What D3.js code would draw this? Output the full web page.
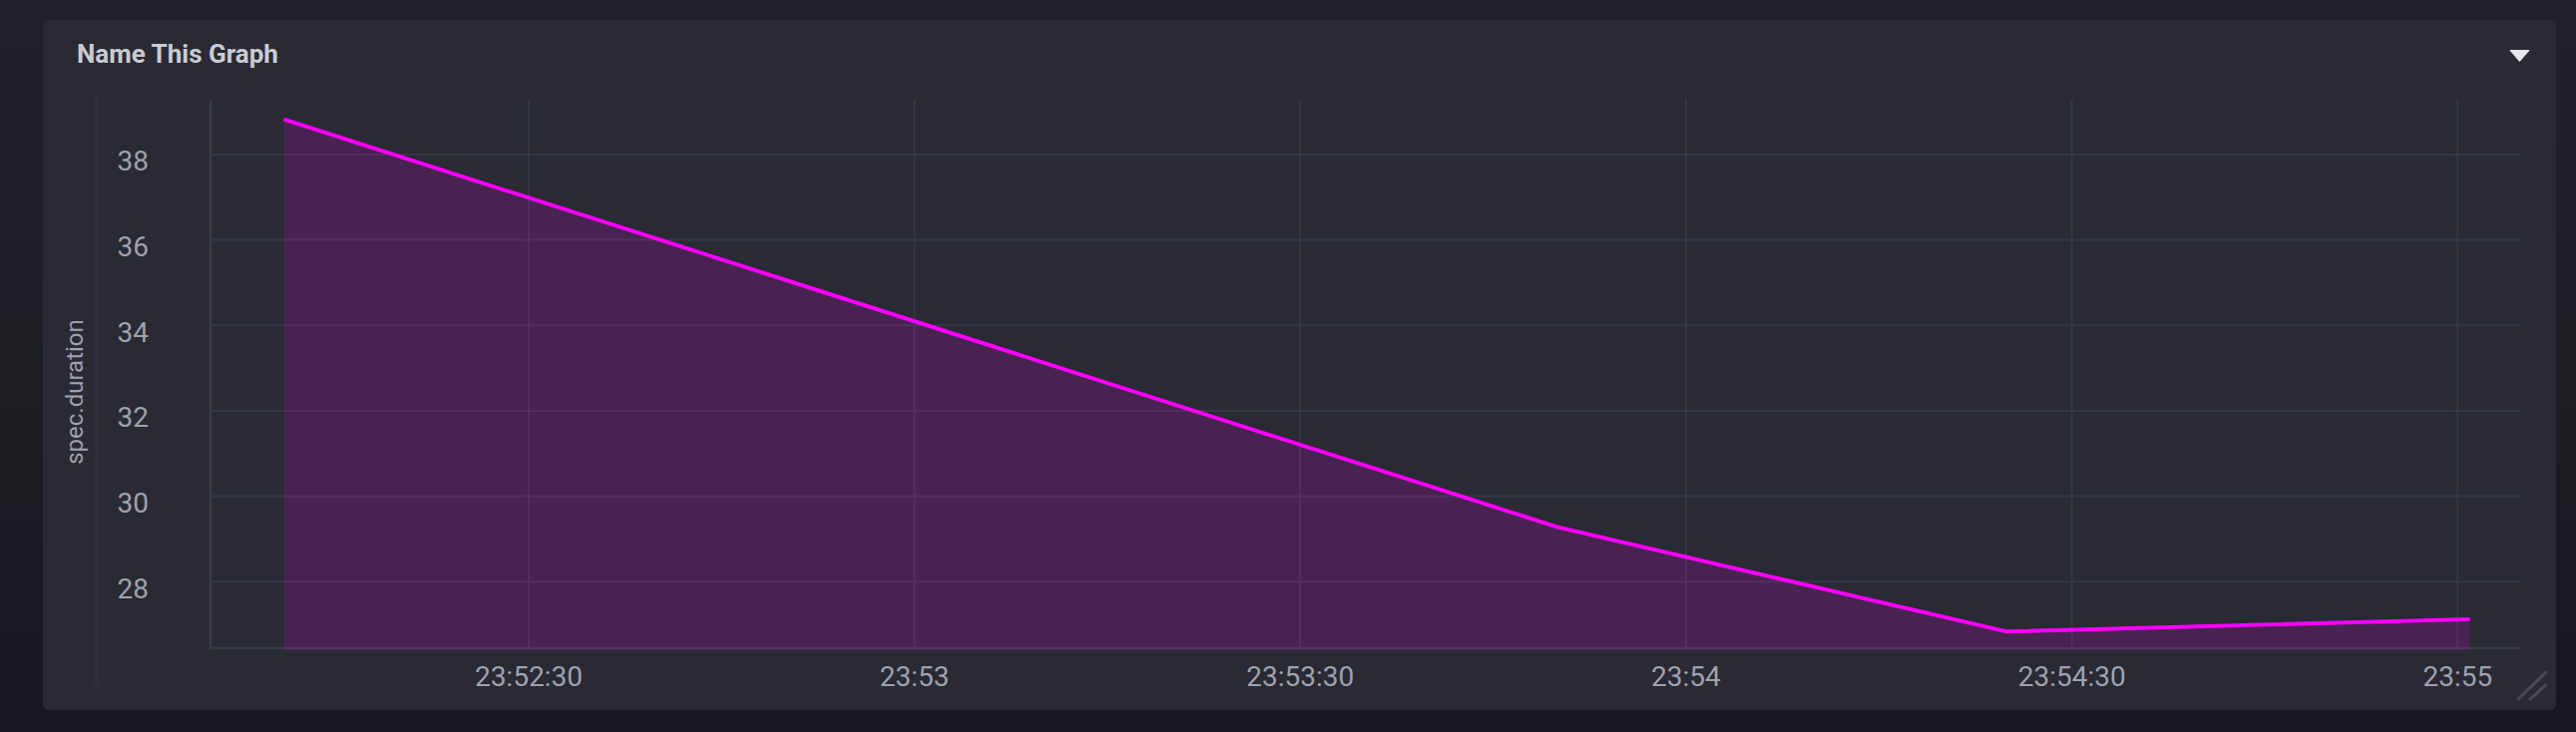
<!DOCTYPE html>
<html>
<head>
<meta charset="utf-8">
<script src="https://cdn.jsdelivr.net/npm/d3@7/dist/d3.min.js"></script>
<style>
  html, body { margin: 0; padding: 0; }
  body { width: 2582px; height: 734px; overflow: hidden;
         background: linear-gradient(180deg, #21212b 0%, #1d1d24 50%, #17161e 100%); }
  svg { display: block; font-family: Roboto, "Noto Sans", sans-serif; }
</style>
</head>
<body>
<svg id="chart" width="2582" height="734"></svg>
<script>
// ---- data ----
const times = ["23:52:11", "23:53:50", "23:54:25", "23:55:01"];
const values = [38.81, 29.27, 26.82, 27.11];
const xTickLabels = ["23:52:30", "23:53", "23:53:30", "23:54", "23:54:30", "23:55"];
const yTickValues = [28, 30, 32, 34, 36, 38];
const xDomainTimes = ["23:52:05.300", "23:55:04.900"];
const yDomainValues = [26.43, 39.27];
const chartTitle = "Name This Graph";
const yAxisTitle = "spec.duration";

const toDate = t => new Date("2020-01-01T" + (t.length === 5 ? t + ":00" : t));
const points = times.map((t, i) => ({ t: toDate(t), v: values[i] }));

const svg = d3.select("#chart");

// panel
svg.append("rect")
  .attr("x", 43).attr("y", 20).attr("width", 2519).attr("height", 692)
  .attr("rx", 6).attr("fill", "#292a34");

// title
svg.append("text")
  .attr("x", 77).attr("y", 63)
  .attr("fill", "#c9cbd3").attr("font-size", 26).attr("font-weight", 700)
  .text(chartTitle);

// dropdown triangle
svg.append("path")
  .attr("d", "M2516,50.5 L2535,50.5 L2525.5,61.5 Z")
  .attr("fill", "#e6e7ec").attr("stroke", "#e6e7ec").attr("stroke-width", 1).attr("stroke-linejoin", "round");

// separator line for y-axis title
svg.append("line")
  .attr("x1", 97).attr("x2", 97).attr("y1", 97).attr("y2", 688)
  .attr("stroke", "#2e2f3a").attr("stroke-width", 4);

// scales
const pLeft = 211, pRight = 2526, pTop = 100, pBottom = 650;
const x = d3.scaleTime().domain(xDomainTimes.map(toDate)).range([pLeft, pRight]);
const y = d3.scaleLinear().domain(yDomainValues).range([pBottom, pTop]);

const xTickDates = xTickLabels.map(toDate);
const fmt = d => d.getSeconds() === 0 ? d3.timeFormat("%H:%M")(d) : d3.timeFormat("%H:%M:%S")(d);

// grid
const gridColor = "#363745";
const gx = svg.append("g").attr("transform", `translate(0,${pBottom})`)
  .call(d3.axisBottom(x).tickValues(xTickDates).tickSize(-(pBottom - pTop)).tickFormat(""));
gx.select(".domain").remove();
gx.selectAll(".tick line").attr("stroke", gridColor).attr("stroke-width", 2);

const gy = svg.append("g").attr("transform", `translate(${pLeft},0)`)
  .call(d3.axisLeft(y).tickValues(yTickValues).tickSize(-(pRight - pLeft)).tickFormat(""));
gy.select(".domain").remove();
gy.selectAll(".tick line").attr("stroke", gridColor).attr("stroke-width", 2);

// axis lines
svg.append("line").attr("x1", pLeft).attr("x2", pLeft).attr("y1", pTop).attr("y2", pBottom + 1.5)
  .attr("stroke", "#393a47").attr("stroke-width", 2.7);
svg.append("line").attr("x1", pLeft - 1.3).attr("x2", pRight).attr("y1", pBottom).attr("y2", pBottom)
  .attr("stroke", "#393a47").attr("stroke-width", 2.7);

// area + line
const area = d3.area().x(d => x(d.t)).y0(pBottom + 1.5).y1(d => y(d.v));
svg.append("path").datum(points).attr("d", area)
  .attr("fill", "#ff00ff").attr("fill-opacity", 0.15);
const line = d3.line().x(d => x(d.t)).y(d => y(d.v));
svg.append("path").datum(points).attr("d", line)
  .attr("fill", "none").attr("stroke", "#ff00ff").attr("stroke-width", 3.9)
  .attr("stroke-linejoin", "round");

// tick labels
const labelColor = "#9fa1ad";
const ax = svg.append("g").attr("transform", `translate(0,${pBottom})`)
  .call(d3.axisBottom(x).tickValues(xTickDates).tickSize(0).tickFormat(fmt));
ax.select(".domain").remove();
ax.selectAll("text").attr("y", 38).attr("dy", 0)
  .attr("fill", labelColor).attr("font-size", 28).attr("font-family", "Roboto");

const ay = svg.append("g").attr("transform", `translate(${pLeft},0)`)
  .call(d3.axisLeft(y).tickValues(yTickValues).tickSize(0).tickFormat(d3.format("d")));
ay.select(".domain").remove();
ay.selectAll("text").attr("x", -62).attr("dy", 16.4)
  .attr("fill", labelColor).attr("font-size", 28).attr("font-family", "Roboto");

// y-axis title
svg.append("text")
  .attr("transform", "translate(83,393) rotate(-90)")
  .attr("text-anchor", "middle")
  .attr("fill", labelColor).attr("font-size", 24)
  .text(yAxisTitle);

// resize handle
svg.append("line").attr("x1", 2523.5).attr("y1", 701.5).attr("x2", 2552.5).attr("y2", 673.5)
  .attr("stroke", "#4a4b57").attr("stroke-width", 3);
svg.append("line").attr("x1", 2535).attr("y1", 702).attr("x2", 2552.5).attr("y2", 686)
  .attr("stroke", "#4a4b57").attr("stroke-width", 3);
</script>
</body>
</html>
